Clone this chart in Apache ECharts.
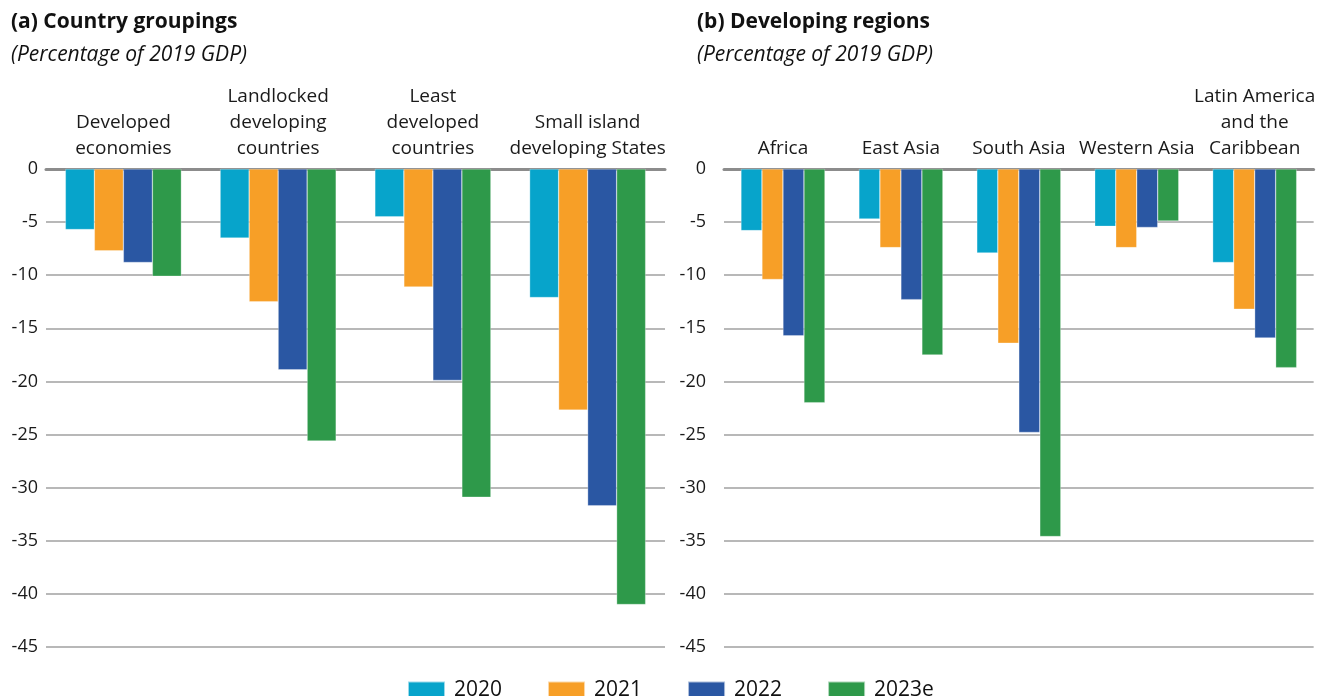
<!DOCTYPE html>
<html>
<head>
<meta charset="utf-8">
<script src="https://cdn.jsdelivr.net/npm/echarts@6/dist/echarts.min.js"></script>
<style>
  html, body { margin: 0; padding: 0; background: #fff; }
  #chart { width: 1318px; height: 696px; }
</style>
</head>
<body>
<div id="chart"></div>
<script>
// panel (a) country groupings
const groupCats = ['Developed\neconomies', 'Landlocked\ndeveloping\ncountries', 'Least\ndeveloped\ncountries', 'Small island\ndeveloping States']
const group2020 = [-5.7, -6.5, -4.5, -12.1]
const group2021 = [-7.7, -12.5, -11.1, -22.7]
const group2022 = [-8.8, -18.9, -19.9, -31.7]
const group2023 = [-10.1, -25.6, -30.9, -41.0]

// panel (b) developing regions
const regionCats = ['Africa', 'East Asia', 'South Asia', 'Western Asia', 'Latin America\nand the\nCaribbean']
const region2020 = [-5.8, -4.7, -7.9, -5.4, -8.8]
const region2021 = [-10.4, -7.4, -16.4, -7.4, -13.2]
const region2022 = [-15.7, -12.3, -24.8, -5.5, -15.9]
const region2023 = [-22.0, -17.5, -34.6, -4.9, -18.7]

const years = ['2020', '2021', '2022', '2023e']
const colors = ['#07a4cb', '#f79f27', '#2a57a3', '#2e994a']

const font = '"Open Sans", "Noto Sans", sans-serif'
const chart = echarts.init(document.getElementById('chart'))

function xAxis (idx, cats) {
  return {
    type: 'category',
    gridIndex: idx,
    position: 'top',
    data: cats,
    axisLine: { lineStyle: { color: '#8c8c8c', width: 3 } },
    axisTick: { show: false },
    axisLabel: { color: '#1a1a1a', fontSize: 19, lineHeight: 26, margin: 7, fontFamily: font, interval: 0 }
  }
}

function yAxis (idx, margin) {
  return {
    type: 'value',
    gridIndex: idx,
    min: -45,
    max: 0,
    interval: 5,
    axisLine: { show: false },
    axisTick: { show: false },
    axisLabel: { color: '#1a1a1a', fontSize: 18, margin: margin, fontFamily: font },
    splitLine: { lineStyle: { color: '#a0a0a0', width: 1.5 } }
  }
}

function bars (idx, arrays, width) {
  return arrays.map((d, i) => ({
    name: years[i],
    type: 'bar',
    xAxisIndex: idx,
    yAxisIndex: idx,
    barWidth: width,
    barGap: '0%',
    itemStyle: { color: colors[i], borderColor: 'rgba(255,255,255,0.6)', borderWidth: 0.5 },
    data: d
  }))
}

chart.setOption({
  animation: false,
  color: colors,
  title: [
    { text: '(a) Country groupings', left: 6, top: 7, textStyle: { fontSize: 21, fontWeight: 'bold', color: '#111', fontFamily: font } },
    { text: '(Percentage of 2019 GDP)', left: 6, top: 40, textStyle: { fontSize: 21, fontStyle: 'italic', fontWeight: 'normal', color: '#111', fontFamily: font } },
    { text: '(b) Developing regions', left: 692, top: 7, textStyle: { fontSize: 21, fontWeight: 'bold', color: '#111', fontFamily: font } },
    { text: '(Percentage of 2019 GDP)', left: 692, top: 40, textStyle: { fontSize: 21, fontStyle: 'italic', fontWeight: 'normal', color: '#111', fontFamily: font } }
  ],
  legend: {
    data: years,
    left: 402,
    top: 675,
    itemWidth: 37,
    itemHeight: 18,
    itemGap: 45,
    icon: 'rect',
    textStyle: { fontSize: 21, color: '#111', fontFamily: font, padding: [0, 0, 0, 4] }
  },
  grid: [
    { left: 46, top: 169, width: 619, height: 478 },
    { left: 724, top: 169, width: 592, height: 478 }
  ],
  xAxis: [xAxis(0, groupCats), xAxis(1, regionCats)],
  yAxis: [yAxis(0, 8), yAxis(1, 18)],
  series: [
    ...bars(0, [group2020, group2021, group2022, group2023], 29),
    ...bars(1, [region2020, region2021, region2022, region2023], 21)
  ]
})
</script>
</body>
</html>
